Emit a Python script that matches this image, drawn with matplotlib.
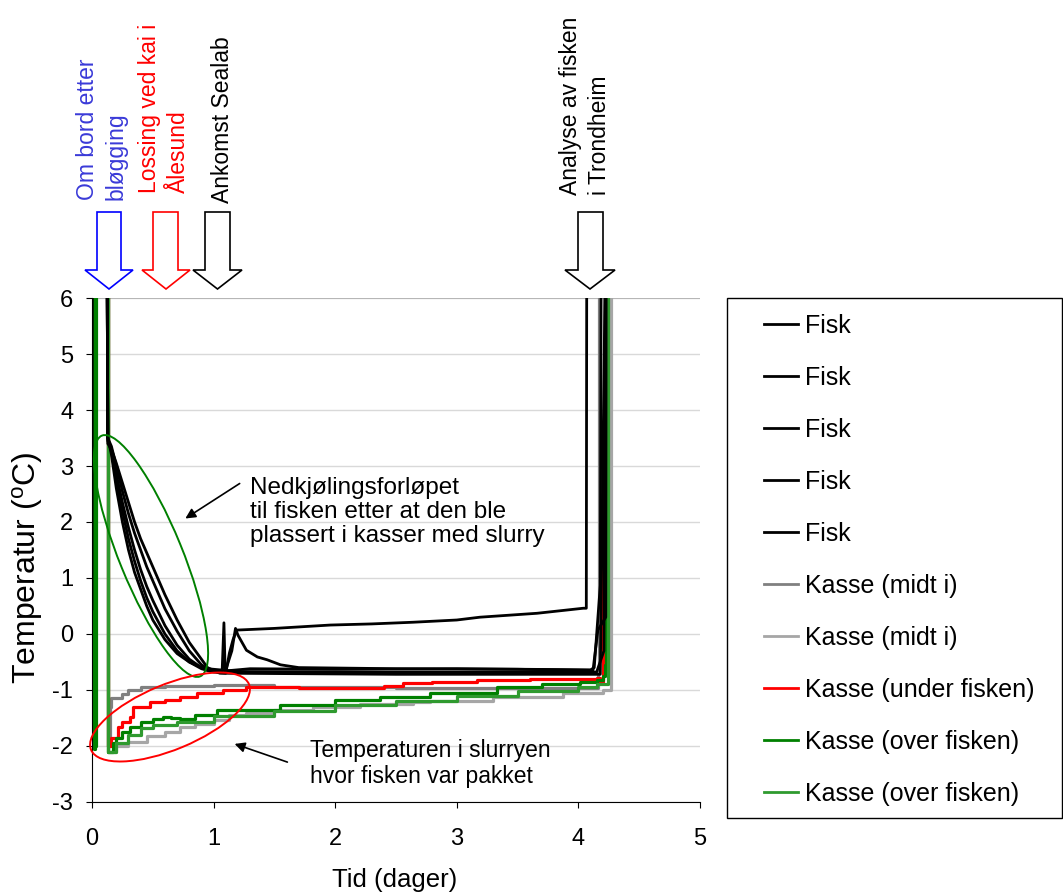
import matplotlib
matplotlib.use('Agg')
import matplotlib.pyplot as plt
from matplotlib.patches import Ellipse, Polygon, Rectangle
from matplotlib.lines import Line2D

plt.rcParams['font.family'] = ['Liberation Sans', 'DejaVu Sans']
plt.rcParams['mathtext.fontset'] = 'custom'
plt.rcParams['mathtext.rm'] = 'Liberation Sans'
plt.rcParams['axes.unicode_minus'] = False

# --- data (tid i dager, temperatur i grader C) ---
fisk1_t = [0.0, 0.004, 0.12, 0.13, 0.16, 0.2, 0.25, 0.3, 0.35, 0.4, 0.45, 0.5, 0.6, 0.7, 0.8, 0.9, 0.95,
           1.0, 1.07, 1.085, 1.095, 1.3, 2.0, 3.0, 4.1, 4.13, 4.18, 4.19]
fisk1_y = [0.45, 9, 9, 3.5, 3.2, 2.6, 2.0, 1.5, 1.1, 0.8, 0.5, 0.25, -0.1, -0.35, -0.5, -0.6, -0.62,
           -0.65, -0.68, 0.2, -0.66, -0.62, -0.63, -0.62, -0.64, -0.6, 0.87, 9]

fisk2_t = [0.12, 0.13, 0.16, 0.2, 0.25, 0.3, 0.35, 0.4, 0.45, 0.5, 0.6, 0.7, 0.8, 0.9, 0.95, 1.0, 1.1,
           1.13, 1.16, 1.19, 1.5, 1.96, 2.3, 2.64, 3.0, 3.19, 3.66, 4.04, 4.065, 4.07]
fisk2_y = [9, 3.5, 3.25, 2.75, 2.2, 1.7, 1.3, 0.95, 0.65, 0.4, 0.0, -0.3, -0.5, -0.62, -0.65, -0.68, -0.7,
           -0.34, -0.1, 0.07, 0.1, 0.16, 0.18, 0.21, 0.25, 0.3, 0.37, 0.46, 0.46, 9]

fisk3_t = [0.12, 0.13, 0.16, 0.2, 0.25, 0.3, 0.35, 0.4, 0.45, 0.5, 0.6, 0.7, 0.8, 0.9, 0.95, 1.0, 1.1,
           1.15, 1.18, 1.2, 1.27, 1.36, 1.44, 1.55, 1.7, 2.5, 3.5, 4.12, 4.16, 4.225, 4.23]
fisk3_y = [9, 3.45, 3.3, 2.85, 2.35, 1.9, 1.5, 1.15, 0.85, 0.6, 0.15, -0.2, -0.45, -0.6, -0.65, -0.66, -0.64,
           -0.3, 0.1, -0.02, -0.29, -0.41, -0.46, -0.55, -0.6, -0.62, -0.63, -0.65, 0.07, 0.3, 9]

fisk4_t = [0.12, 0.13, 0.16, 0.2, 0.25, 0.3, 0.35, 0.4, 0.45, 0.5, 0.6, 0.7, 0.8, 0.9, 0.95, 1.2, 2.5,
           4.15, 4.21, 4.225]
fisk4_y = [9, 3.5, 3.35, 3.0, 2.55, 2.15, 1.8, 1.5, 1.2, 0.95, 0.45, 0.05, -0.3, -0.55, -0.62, -0.67, -0.68,
           -0.68, -0.3, 9]

fisk5_t = [0.12, 0.13, 0.16, 0.2, 0.25, 0.3, 0.35, 0.4, 0.45, 0.5, 0.6, 0.7, 0.8, 0.9, 0.95, 1.05, 2.5,
           4.18, 4.235]
fisk5_y = [9, 3.4, 3.3, 3.05, 2.7, 2.35, 2.0, 1.7, 1.45, 1.2, 0.7, 0.25, -0.15, -0.45, -0.6, -0.7, -0.72,
           -0.72, 9]

midt1_t = [0.0, 0.004, 0.12, 0.13, 0.15, 0.16, 0.25, 0.3, 0.4, 0.6, 1.0, 1.3, 1.5, 2.5, 3.5, 4.1, 4.16, 4.17]
midt1_y = [0.0, 9, 9, -2.0, -1.3, -1.14, -1.08, -1.0, -0.95, -0.92, -0.91, -0.91, -0.95, -0.96, -0.97,
           -0.97, -0.7, 9]

midt2_t = [0.12, 0.13, 0.2, 0.3, 0.45, 0.6, 0.72, 0.85, 1.0, 1.13, 1.27, 1.5, 1.82, 2.2, 2.64, 2.78, 3.3,
           3.87, 4.2, 4.26, 4.265]
midt2_y = [9, -2.1, -2.0, -1.93, -1.83, -1.75, -1.66, -1.6, -1.53, -1.45, -1.41, -1.36, -1.3, -1.25, -1.21,
           -1.2, -1.12, -1.05, -1.0, -1.0, 9]

under_t = [0.12, 0.13, 0.16, 0.21, 0.25, 0.31, 0.34, 0.48, 0.6, 0.72, 0.86, 1.08, 1.27, 1.5, 1.7, 2.0, 2.4,
           2.56, 2.8, 3.17, 3.6, 4.05, 4.15, 4.18, 4.195, 4.2]
under_y = [9, -2.0, -1.85, -1.66, -1.58, -1.48, -1.3, -1.21, -1.17, -1.12, -1.05, -1.0, -0.94, -0.95, -0.97,
           -0.96, -0.93, -0.88, -0.86, -0.82, -0.81, -0.8, -0.78, -0.85, -0.85, 3.77]

over1_t = [0.0, 0.008, 0.018, 0.026, 0.034, 0.11, 0.125, 0.135, 0.17, 0.2, 0.25, 0.31, 0.4, 0.5, 0.58,
           0.65, 0.72, 0.85, 1.03, 1.2, 1.55, 2.0, 2.37, 2.78, 3.33, 3.7, 4.01, 4.15, 4.2, 4.22, 4.23]
over1_y = [9, 9, -2.05, -2.0, 9, 9, 9, -2.1, -1.95, -1.85, -1.75, -1.66, -1.58, -1.52, -1.48,
           -1.5, -1.52, -1.45, -1.36, -1.35, -1.27, -1.18, -1.12, -1.05, -0.94, -0.9, -0.85, -0.82, -0.75,
           -0.55, 5.8]

over2_t = [0.12, 0.135, 0.2, 0.3, 0.4, 0.5, 0.7, 1.0, 1.5, 2.0, 2.5, 3.0, 3.5, 4.0, 4.15, 4.24, 4.245]
over2_y = [9, -2.1, -1.95, -1.8, -1.68, -1.62, -1.57, -1.47, -1.37, -1.27, -1.19, -1.1, -1.02, -0.94, -0.9,
           -0.88, 9]

fisk_serier = [(fisk1_t, fisk1_y), (fisk2_t, fisk2_y), (fisk3_t, fisk3_y), (fisk4_t, fisk4_y), (fisk5_t, fisk5_y)]
kasse_serier = [(midt1_t, midt1_y, '#808080', 'Kasse (midt i)'),
                (midt2_t, midt2_y, '#a6a6a6', 'Kasse (midt i)'),
                (under_t, under_y, '#ff0000', 'Kasse (under fisken)'),
                (over1_t, over1_y, '#008000', 'Kasse (over fisken)'),
                (over2_t, over2_y, '#2f9a2f', 'Kasse (over fisken)')]

W, H = 1063, 893
fig = plt.figure(figsize=(W / 100, H / 100), dpi=100)
ax = fig.add_axes([92 / W, 1 - 802 / H, (700 - 92) / W, (802 - 298) / H])


def fp(x, y):
    # pikselposisjon (fra toppen) -> figurbrøk
    return (x / W, 1 - y / H)


handles = []
labels = []
for t, y in fisk_serier:
    ax.plot(t, y, color='black', lw=2.0, zorder=3)
    handles.append(Line2D([], [], color='black', lw=2.0))
    labels.append('Fisk')
for t, y, c, lab in kasse_serier:
    ax.plot(t, y, color=c, lw=2.3, drawstyle='steps-post', zorder=2)
    handles.append(Line2D([], [], color=c, lw=2.0))
    labels.append(lab)

ax.set_xlim(0, 5)
ax.set_ylim(-3, 6)
ax.set_xticks(range(0, 6))
ax.set_yticks(range(-3, 7))
ax.yaxis.grid(True, color='#d9d9d9', lw=1.0)
ax.set_axisbelow(True)
for s in ['top', 'right']:
    ax.spines[s].set_visible(False)
ax.spines['left'].set_color('black')
ax.spines['bottom'].set_color('black')
ax.tick_params(axis='x', length=4.5, pad=14, labelsize=17, color='black')
ax.tick_params(axis='y', length=4.5, pad=9, labelsize=17, color='black')
ax.axhline(6, color='#b0b0b0', lw=1.2, zorder=1)

fig.text(395 / W, 1 - 880 / H, 'Tid (dager)', ha='center', va='center', fontsize=18.5)
fig.text(28 / W, 1 - 568 / H, r'Temperatur ($\mathregular{^o}$C)', ha='center', va='center',
         rotation=90, fontsize=23)

# ellipser og kommentarer
fig.patches.append(Ellipse((1.51, (H - 556) / 100), 2.60, 0.63, angle=-67.8,
                           transform=fig.dpi_scale_trans, fill=False, ec='#008000', lw=1.4))
fig.patches.append(Ellipse((1.70, (H - 717) / 100), 1.71, 0.65, angle=22.6,
                           transform=fig.dpi_scale_trans, fill=False, ec='#ff0000', lw=1.4))

ax.annotate('', xy=fp(183, 520), xycoords='figure fraction', xytext=fp(242, 482),
            textcoords='figure fraction', arrowprops=dict(arrowstyle='-|>', color='black', lw=1.2,
                                                          mutation_scale=15))
fig.text(250 / W, 1 - 477 / H, 'Nedkjølingsforløpet\ntil fisken etter at den ble\nplassert i kasser med slurry',
         ha='left', va='top', fontsize=17.5, linespacing=1.12)
ax.annotate('', xy=fp(232, 743), xycoords='figure fraction', xytext=fp(290, 763),
            textcoords='figure fraction', arrowprops=dict(arrowstyle='-|>', color='black', lw=1.2,
                                                          mutation_scale=15))
fig.text(310 / W, 1 - 739 / H, 'Temperaturen i slurryen\nhvor fisken var pakket',
         ha='left', va='top', fontsize=16.5, linespacing=1.15)

# blokkpiler over diagrammet
piler = [(97, 121, 85, 133, '#0000ff'), (153, 178, 142, 190, '#ff0000'),
         (205, 230, 193, 242, 'black'), (578, 603, 565, 615, 'black')]
for s0, s1, h0, h1, c in piler:
    tip = (h0 + h1) / 2
    pts = [fp(s0, 212), fp(s1, 212), fp(s1, 270), fp(h1, 270), fp(tip, 289), fp(h0, 270), fp(s0, 270)]
    fig.patches.append(Polygon(pts, closed=True, fill=False, ec=c, lw=1.2, transform=fig.transFigure))

toptekst = [(102, 200, 'Om bord etter\nbløgging', '#3a3ad8'),
            (164, 193, 'Lossing ved kai i\nÅlesund', '#ff0000'),
            (222, 203, 'Ankomst Sealab', 'black'),
            (585, 195, 'Analyse av fisken\ni Trondheim', 'black')]
for x, y, txt, c in toptekst:
    fig.text(x / W, 1 - y / H, txt, rotation=90, ha='center', va='bottom', multialignment='left',
             color=c, fontsize=16.5, linespacing=1.3)

# legende
fig.patches.append(Rectangle(fp(727, 818), (1062 - 727) / W, (818 - 298) / H, transform=fig.transFigure,
                             fill=False, ec='black', lw=1.0))
fig.legend(handles, labels, loc='upper left', bbox_to_anchor=fp(764, 314), bbox_transform=fig.transFigure,
           frameon=False, borderpad=0, borderaxespad=0, fontsize=18, handlelength=34 / 25,
           handletextpad=7 / 25, labelspacing=1.12)

fig.savefig('out.png', dpi=100)
